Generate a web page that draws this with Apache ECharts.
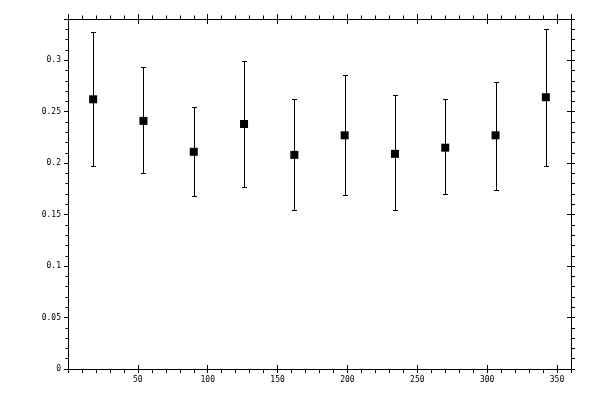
<!DOCTYPE html>
<html>
<head>
<meta charset="utf-8">
<script src="https://cdn.jsdelivr.net/npm/echarts@6/dist/echarts.min.js"></script>
<style>
  html, body { margin: 0; padding: 0; background: #fff; }
  #main { width: 600px; height: 400px; }
</style>
</head>
<body>
<div id="main"></div>
<script>
// bin centres (degrees) and measured values with their error limits
const xValues = [18, 54, 90, 126, 162, 198, 234, 270, 306, 342];
const yValues = [0.262, 0.241, 0.211, 0.238, 0.208, 0.227, 0.209, 0.215, 0.227, 0.264];
const yUpper  = [0.327, 0.293, 0.255, 0.299, 0.262, 0.286, 0.266, 0.262, 0.279, 0.330];
const yLower  = [0.197, 0.190, 0.168, 0.177, 0.154, 0.169, 0.154, 0.170, 0.174, 0.197];

const font = 'DejaVu Sans Mono';
const black = '#000';

const chart = echarts.init(document.getElementById('main'));

// shared bits for the frame axes
const line = { show: true, onZero: false, lineStyle: { color: black, width: 1 } };
const noLine = { show: false, onZero: false };

const xBase = { type: 'value', min: 0, max: 360, interval: 50, splitLine: { show: false } };
const yBase = { type: 'value', min: 0, max: 0.34, interval: 0.05, splitLine: { show: false } };

const pointData = xValues.map((x, i) => [x, yValues[i]]);
const barData = xValues.map((x, i) => [x, yLower[i], yUpper[i]]);

// keep 1px strokes sharp
const snap = v => Math.round(v) + 0.5;

const option = {
  backgroundColor: '#fff',
  animation: false,
  grid: { left: 68, right: 29, top: 19, bottom: 31 },
  xAxis: [
    {
      ...xBase, position: 'bottom',
      axisLine: line,
      axisTick: { show: true, inside: false, length: 4, lineStyle: { color: black } },
      minorTick: { show: true, splitNumber: 5, length: 4, lineStyle: { color: black } },
      axisLabel: { show: true, margin: 7, color: black, fontFamily: font, fontSize: 8,
        showMinLabel: false, showMaxLabel: false }
    },
    {
      ...xBase, position: 'top',
      axisLine: line,
      axisTick: { show: true, inside: false, length: 5, lineStyle: { color: black } },
      minorTick: { show: true, splitNumber: 5, length: 3.5, lineStyle: { color: black } },
      axisLabel: { show: false }
    },
    {
      ...xBase, position: 'bottom',
      axisLine: noLine,
      axisTick: { show: true, inside: true, length: 4, lineStyle: { color: black } },
      axisLabel: { show: false }
    },
    {
      ...xBase, position: 'top',
      axisLine: noLine,
      axisTick: { show: true, inside: true, length: 5, lineStyle: { color: black } },
      axisLabel: { show: false }
    }
  ],
  yAxis: [
    {
      ...yBase, position: 'left',
      axisLine: line,
      axisTick: { show: true, inside: false, length: 4, lineStyle: { color: black } },
      minorTick: { show: true, splitNumber: 5, length: 2.5, lineStyle: { color: black } },
      axisLabel: { show: true, margin: 7, color: black, fontFamily: font, fontSize: 8,
        showMaxLabel: false }
    },
    {
      ...yBase, position: 'right',
      axisLine: line,
      axisTick: { show: true, inside: false, length: 4, lineStyle: { color: black } },
      minorTick: { show: true, splitNumber: 5, length: 4, lineStyle: { color: black } },
      axisLabel: { show: false }
    },
    {
      ...yBase, position: 'right',
      axisLine: noLine,
      axisTick: { show: true, inside: true, length: 4, lineStyle: { color: black } },
      axisLabel: { show: false }
    }
  ],
  series: [
    {
      // error bars with small caps
      type: 'custom',
      xAxisIndex: 0,
      yAxisIndex: 0,
      data: barData,
      encode: { x: 0, y: [1, 2] },
      renderItem: function (params, api) {
        const lo = api.coord([api.value(0), api.value(1)]);
        const hi = api.coord([api.value(0), api.value(2)]);
        const x = snap(lo[0]);
        const yLo = snap(lo[1]);
        const yHi = snap(hi[1]);
        const cap = 2.5;
        const style = { stroke: black, lineWidth: 1 };
        return {
          type: 'group',
          children: [
            { type: 'line', shape: { x1: x, y1: yLo, x2: x, y2: yHi }, style },
            { type: 'line', shape: { x1: x - cap, y1: yHi, x2: x + cap, y2: yHi }, style },
            { type: 'line', shape: { x1: x - cap, y1: yLo, x2: x + cap, y2: yLo }, style }
          ]
        };
      },
      z: 2
    },
    {
      type: 'scatter',
      xAxisIndex: 0,
      yAxisIndex: 0,
      data: pointData,
      symbol: 'rect',
      symbolSize: 8,
      itemStyle: { color: black, opacity: 1 },
      z: 3
    }
  ]
};

chart.setOption(option);
</script>
</body>
</html>
